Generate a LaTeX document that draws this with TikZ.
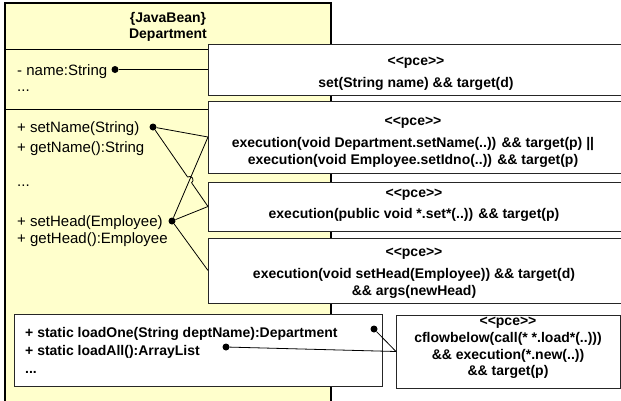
\documentclass[tikz,border=0pt]{standalone}
\usepackage{fontspec}
\setmainfont{Liberation Sans}
\usetikzlibrary{calc,intersections}
\definecolor{beanyellow}{RGB}{255,255,204}
% stereotype marker, kept apart so the font does not fuse << into a guillemet
\newcommand\pcemark{<\kern0pt<pce>\kern0pt>}
\begin{document}
\begin{tikzpicture}[x=1pt,y=-1pt,
  classbox/.style={draw=black, line width=1.2pt, fill=beanyellow, anchor=north west, inner sep=0pt, outer sep=0pt},
  member/.style={font=\fontsize{15}{18}\selectfont, inner sep=0pt, anchor=base west},
  boldmember/.style={font=\fontsize{14}{17}\selectfont\bfseries, inner sep=0pt, anchor=base west},
  pcebox/.style={draw=black!85, line width=1pt, fill=white, anchor=north west, inner sep=0pt, outer sep=0pt},
  pcetext/.style={font=\fontsize{14}{17.5}\selectfont\bfseries, align=center, inner sep=0pt},
  dot/.style={circle, fill=black, inner sep=0pt, minimum size=7pt},
  link/.style={line width=0.8pt}]
\useasboundingbox (0,0) rectangle (621,400);
\clip (0,0) rectangle (621,400);

% class Department
\node[classbox, minimum width=326pt, minimum height=420pt] (dept) at (5,3) {};
\draw[line width=1pt] (5,49) -- (331,49);
\draw[line width=1pt] (5,109) -- (331,109);
\node[font=\fontsize{14}{16}\selectfont\bfseries, align=center, inner sep=0pt] (title) at (168,27) {\{JavaBean\}\\Department};

\node[member] (attrname) at (17,75) {- name:String};
\node[member] (attrmore) at (17,91) {...};
\node[member] (msetname) at (17,132) {+ setName(String)};
\node[member] (mgetname) at (17,152) {+ getName():String};
\node[member] (mmore) at (17,186) {...};
\node[member] (msethead) at (17,226) {+ setHead(Employee)};
\node[member] (mgethead) at (17,243) {+ getHead():Employee};

\node[dot] (dname) at (115,69.5) {};
\node[dot] (dsetname) at (153,127) {};
\node[dot] (dsethead) at (172,221) {};

% static operations
\node[pcebox, minimum width=368pt, minimum height=72pt] (statics) at (14,314) {};
\node[boldmember] (sloadone) at (25,337) {+ static loadOne(String deptName):Department};
\node[boldmember] (sloadall) at (25,355) {+ static loadAll():ArrayList};
\node[boldmember] (smore) at (25,373) {...};
\node[dot] (dloadone) at (374,329) {};
\node[dot] (dloadall) at (226,347) {};

% pointcut boxes
\node[pcebox, minimum width=414pt, minimum height=51pt] (box1) at (208,44) {};
\node[pcetext] (t1) at (416,73.5) {\pcemark\\[4.5pt]set(String name) \&\& target(d)};

\node[pcebox, minimum width=414pt, minimum height=72pt] (box2) at (208,101) {};
\node[pcetext] (t2) at (413,142.5) {\pcemark\\[4.5pt]execution(void Department.setName(..)) \&\& target(p) ||\\execution(void Employee.setIdno(..)) \&\& target(p)};

\node[pcebox, minimum width=414pt, minimum height=49pt] (box3) at (208,182) {};
\node[pcetext] (t3) at (414,205.5) {\pcemark\\[3pt]execution(public void *.set*(..)) \&\& target(p)};

\node[pcebox, minimum width=414pt, minimum height=65pt] (box4) at (208,238) {};
\node[pcetext] (t4) at (414,273.5) {\pcemark\\[4pt]execution(void setHead(Employee)) \&\& target(d)\\\&\& args(newHead)};

\node[pcebox, minimum width=224pt, minimum height=73pt] (box6) at (396,315) {};
\node[pcetext, font=\fontsize{14}{16.7}\selectfont\bfseries] (t6) at (508,348) {\pcemark\\cflowbelow(call(* *.load*(..)))\\\&\& execution(*.new(..))\\\&\& target(p)};

% connectors
\draw[link] (dname) -- (box1.west);
\draw[link] (dsetname) -- (box2.west);
\draw[link, name path=headtwo] (dsethead) -- (box2.west);
\draw[link] (dsethead) -- (box3.west);
\draw[link] (dsethead) -- (box4.west);
\path[name path=namethree] (dsetname.center) -- (box3.west);
\path[name intersections={of=headtwo and namethree, by=hopc}];
\draw[link] let \p1=($(box3.west)-(dsetname.center)$), \n1={atan2(\y1,\x1)} in
  (dsetname) -- ($(hopc)!3.5pt!(dsetname.center)$)
  arc[start angle=\n1+180, delta angle=-180, radius=3.5pt] -- (box3.west);
\draw[link] (dloadone) -- (box6.west);
\draw[link] (dloadall) -- (box6.west);
\end{tikzpicture}
\end{document}
